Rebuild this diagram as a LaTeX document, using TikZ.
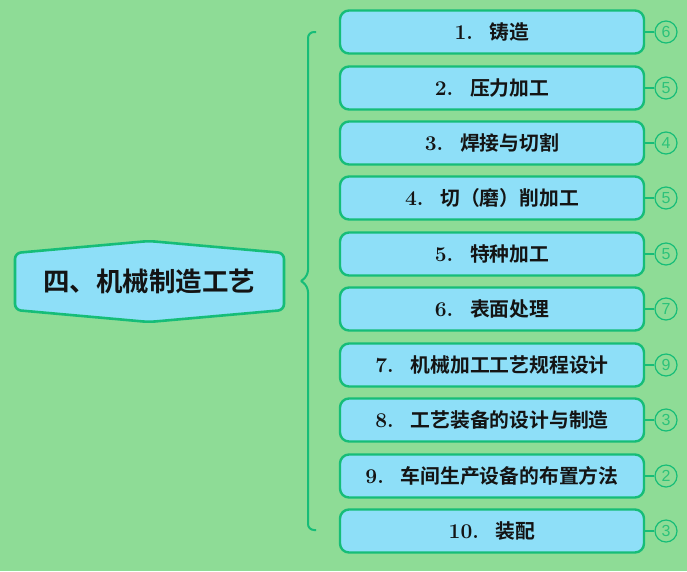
\documentclass[tikz,border=0pt]{standalone}
\usepackage{fontspec}
\newfontfamily\cjk{Noto Sans CJK SC}[BoldFont={Noto Sans CJK SC Bold}]
\newfontfamily\cntfont{Liberation Sans}
\usetikzlibrary{calc}
\definecolor{bg}{HTML}{8EDC96}
\definecolor{bd}{HTML}{16BD78}
\definecolor{fl}{HTML}{8EDFF8}
\definecolor{tx}{HTML}{141414}
\definecolor{cn}{HTML}{2CC27A}
\tikzset{
  item/.style={draw=bd, line width=2.4pt, fill=fl, rounded corners=9pt, minimum width=304pt, minimum height=43pt, inner sep=0pt, font=\fontsize{19.8}{22}\selectfont\bfseries\cjk, text=tx},
  cnt/.style={circle, draw=bd, line width=1.2pt, minimum size=22pt, inner sep=0pt, font=\fontsize{16}{17}\selectfont\cntfont, text=cn},
  link/.style={draw=bd, line width=2.2pt},
}
\newcommand{\num}[1]{{\fontspec{Latin Modern Roman}\bfseries\fontsize{21}{22}\selectfont #1}}
\begin{document}
\begin{tikzpicture}[x=1pt,y=-1pt]
\fill[bg] (0,0) rectangle (687,571);
\useasboundingbox (0,0) rectangle (687,571);
% central hexagon
\draw[bd, line width=2.6pt, fill=fl, rounded corners=6pt]
  (15,253) -- (149,241) -- (284,253) -- (284,310) -- (149,322) -- (15,310) -- cycle;
\node[font=\fontsize{26.5}{30}\selectfont\bfseries\cjk, text=tx] (root) at (149,281) {四、机械制造工艺};
% bracket
\coordinate (btop) at (316,32);
\coordinate (bbot) at (316,530);
\coordinate (bmid) at (301,281);
\draw[link, line width=2pt, rounded corners=6pt] (btop) -- (308,32) -- (308,276) -- (bmid);
\draw[link, line width=2pt, rounded corners=6pt] (bbot) -- (308,530) -- (308,286) -- (bmid);
% items
\foreach \i/\y/\t/\n in {
 1/32/{\num{1.}\hspace{0.85em}铸造}/6,
 2/88/{\num{2.}\hspace{0.85em}压力加工}/5,
 3/143/{\num{3.}\hspace{0.85em}焊接与切割}/4,
 4/198/{\num{4.}\hspace{0.85em}切（磨）削加工}/5,
 5/254/{\num{5.}\hspace{0.85em}特种加工}/5,
 6/309/{\num{6.}\hspace{0.85em}表面处理}/7,
 7/365/{\num{7.}\hspace{0.85em}机械加工工艺规程设计}/9,
 8/420/{\num{8.}\hspace{0.85em}工艺装备的设计与制造}/3,
 9/476/{\num{9.}\hspace{0.85em}车间生产设备的布置方法}/2,
 10/531/{\num{10.}\hspace{0.85em}装配}/3} {
  \node[item] (b\i) at (492,\y) {\t};
  \node[cnt] (c\i) at (666,\y) {\n};
  \draw[link] (b\i.east) -- (c\i.west);
}
\end{tikzpicture}
\end{document}
